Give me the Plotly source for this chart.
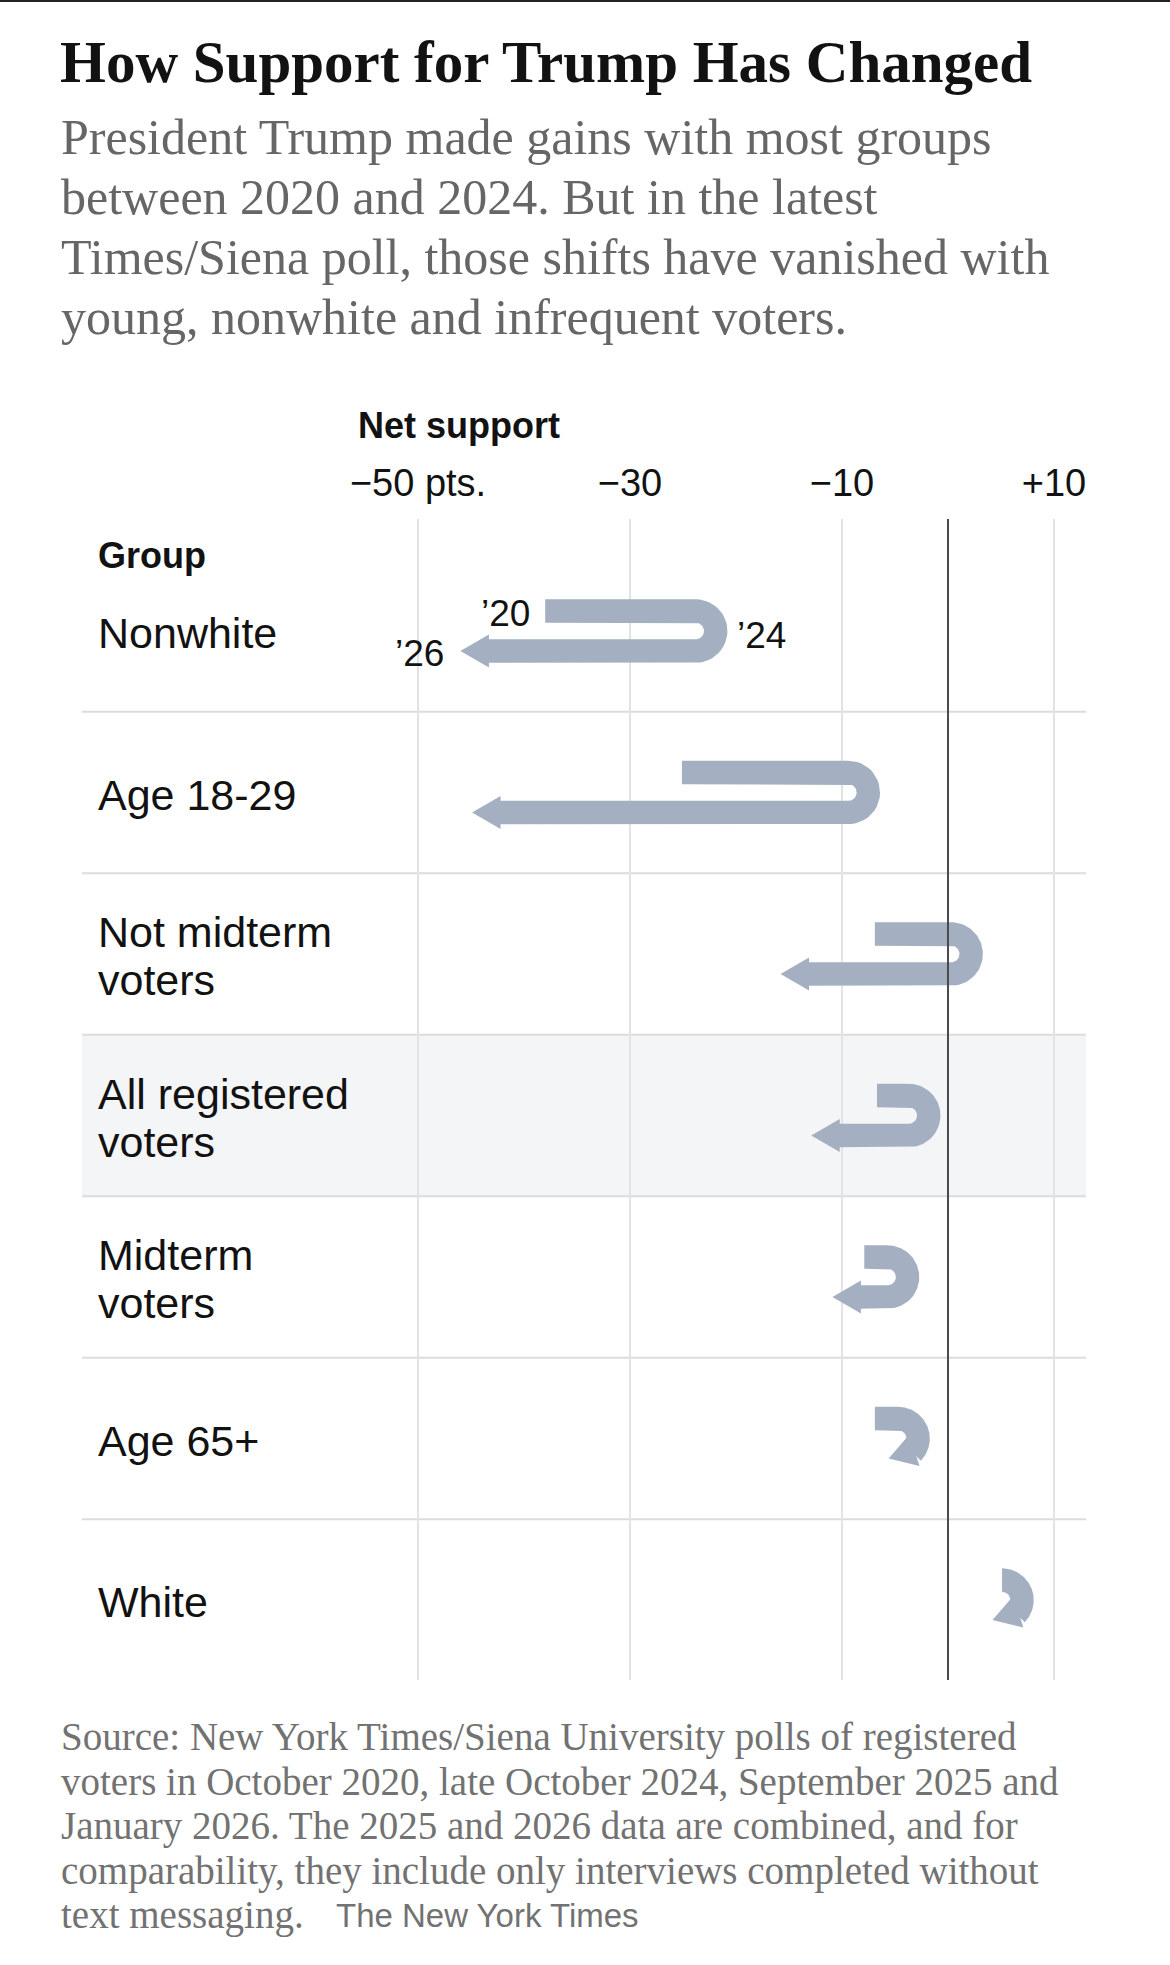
import math
import numpy as np
import plotly.graph_objects as go

# ---------------- data ----------------
groups = ["Nonwhite", "Age 18-29", "Not midterm<br>voters", "All registered<br>voters",
          "Midterm<br>voters", "Age 65+", "White"]
net_2020 = [-38.0, -25.1, -6.9, -6.7, -7.9, -6.9, 5.1]
net_2024 = [-23.8, -9.4, 0.3, -3.7, -5.7, -4.7, 5.1]
net_2026 = [-46.0, -44.9, -15.8, -12.9, -10.9, -5.6, 4.2]
highlight_group = "All registered<br>voters"
tick_vals = [-50, -30, -10, 10]
tick_text = ["\u221250 pts.", "\u221230", "\u221210", "+10"]
year_labels = ["\u201920", "\u201924", "\u201926"]

title = "How Support for Trump Has Changed"
subtitle_lines = [
    "President Trump made gains with most groups",
    "between 2020 and 2024. But in the latest",
    "Times/Siena poll, those shifts have vanished with",
    "young, nonwhite and infrequent voters.",
]
footer_lines = [
    "Source: New York Times/Siena University polls of registered",
    "voters in October 2020, late October 2024, September 2025 and",
    "January 2026. The 2025 and 2026 data are combined, and for",
    "comparability, they include only interviews completed without",
    "text messaging.",
]
credit = "The New York Times"

# ---------------- layout constants ----------------
W, H = 1170, 1965
L, R, T, B = 82, 84, 519, 285
PW, PH = W - L - R, H - T - B
X_RANGE = [-81.7, 13.02]
Y_RANGE = [6.495, -0.6935]
KX = PW / (X_RANGE[1] - X_RANGE[0])      # px per point
KY = PH / (Y_RANGE[0] - Y_RANGE[1])      # px per row

LANE = 20.0
RAD = 20.0
BAND = 23.4
HEAD_L = 28.5
HEAD_HW = 16.5
ARROW_COLOR = "#a4b0c1"
SANS = "Liberation Sans, Arial, sans-serif"
SERIF = "Liberation Serif, Times New Roman, serif"


def px_x(p):
    return (p - L) / PW


def px_y(p):
    return (H - B - p) / PH


def point_at(s, x20, xc, yc):
    s1 = max(xc - x20, 0.0)
    arc = math.pi * RAD
    if s <= s1:
        return (x20 + s, yc - LANE), (1.0, 0.0)
    if s <= s1 + arc:
        phi = (s - s1) / RAD
        return (xc + RAD * math.sin(phi), yc - RAD * math.cos(phi)), (math.cos(phi), math.sin(phi))
    d = s - s1 - arc
    return (xc - d, yc + LANE), (-1.0, 0.0)


def arrow_polys(v20, v24, v26, row):
    x20, xc, xt = v20 * KX, v24 * KX, v26 * KX
    yc = row * KY
    s1 = max(xc - x20, 0.0)
    arc = math.pi * RAD
    s_end = s1 + arc + (xc - xt)
    s_b = s_end - HEAD_L
    s_band = s_b + 3.0
    ss = np.unique(np.concatenate([np.linspace(0, s_band, 200),
                                   [v for v in (s1, s1 + arc) if v < s_band]]))
    left, right = [], []
    for s in ss:
        (px, py), (tx, ty) = point_at(s, x20, xc, yc)
        nx, ny = -ty, tx
        left.append((px + nx * BAND / 2, py + ny * BAND / 2))
        right.append((px - nx * BAND / 2, py - ny * BAND / 2))
    band = left + right[::-1] + [left[0]]
    (tx_, ty_), _ = point_at(s_end, x20, xc, yc)
    (bx, by), _ = point_at(s_b, x20, xc, yc)
    dx, dy = tx_ - bx, ty_ - by
    n = math.hypot(dx, dy)
    dx, dy = dx / n, dy / n
    nx, ny = -dy, dx
    head = [(bx + nx * HEAD_HW, by + ny * HEAD_HW), (tx_, ty_),
            (bx - nx * HEAD_HW, by - ny * HEAD_HW), (bx + nx * HEAD_HW, by + ny * HEAD_HW)]
    conv = lambda pts: ([p[0] / KX for p in pts], [p[1] / KY for p in pts])
    return conv(band), conv(head)


fig = go.Figure()

for i, g in enumerate(groups):
    band, head = arrow_polys(net_2020[i], net_2024[i], net_2026[i], i)
    for xs, ys in (band, head):
        fig.add_trace(go.Scatter(x=xs, y=ys, mode="lines", fill="toself",
                                 fillcolor=ARROW_COLOR, line=dict(width=0, color=ARROW_COLOR),
                                 hoverinfo="skip", showlegend=False))

shapes = []
hi = groups.index(highlight_group)
shapes.append(dict(type="rect", xref="paper", yref="y", x0=0, x1=1, y0=hi - 0.5, y1=hi + 0.5,
                   fillcolor="#f4f5f7", line=dict(width=0), layer="below"))
for i in range(len(groups) - 1):
    shapes.append(dict(type="line", xref="paper", yref="y", x0=0, x1=1, y0=i + 0.5, y1=i + 0.5,
                       line=dict(color="#dcdcdc", width=2), layer="below"))
shapes.append(dict(type="line", xref="x", yref="paper", x0=0, x1=0, y0=0, y1=1,
                   line=dict(color="#4a4a4a", width=2), layer="above"))
shapes.append(dict(type="line", xref="paper", yref="paper", x0=px_x(0), x1=px_x(W),
                   y0=px_y(1), y1=px_y(1), line=dict(color="#222222", width=2)))

ann = []
# title block
ann.append(dict(text="<b>" + title + "</b>", xref="paper", yref="paper", x=px_x(58), y=px_y(62),
                xanchor="left", yanchor="middle", showarrow=False,
                font=dict(family=SERIF, size=59, color="#121212")))
for k, line in enumerate(subtitle_lines):
    ann.append(dict(text=line, xref="paper", yref="paper", x=px_x(59), y=px_y(137 + 60 * k),
                    xanchor="left", yanchor="middle", showarrow=False,
                    font=dict(family=SERIF, size=50, color="#666666")))
# headers
ann.append(dict(text="<b>Net support</b>", xref="paper", yref="paper", x=px_x(356), y=px_y(425),
                xanchor="left", yanchor="middle", showarrow=False,
                font=dict(family=SANS, size=36, color="#121212")))
ann.append(dict(text="<b>Group</b>", xref="paper", yref="paper", x=px_x(96), y=px_y(555),
                xanchor="left", yanchor="middle", showarrow=False,
                font=dict(family=SANS, size=36, color="#121212")))
# group labels
for i, g in enumerate(groups):
    lines = g.split("<br>")
    nl = len(lines)
    for k, line in enumerate(lines):
        off = (k - (nl - 1) / 2) * 48
        ann.append(dict(text=line, xref="paper", yref="y", x=px_x(96), y=i, yshift=-off - 2,
                        xanchor="left", yanchor="middle", showarrow=False,
                        font=dict(family=SANS, size=43, color="#121212")))
# year labels on first row
ann.append(dict(text=year_labels[0], xref="x", yref="y", x=net_2020[0], y=-LANE / KY,
                xshift=-13, yshift=-2, xanchor="right", yanchor="middle", showarrow=False,
                font=dict(family=SANS, size=37, color="#121212")))
ann.append(dict(text=year_labels[1], xref="x", yref="y", x=net_2024[0], y=0,
                xshift=RAD + BAND / 2 + 8, yshift=-4, xanchor="left", yanchor="middle", showarrow=False,
                font=dict(family=SANS, size=37, color="#121212")))
ann.append(dict(text=year_labels[2], xref="x", yref="y", x=net_2026[0], y=LANE / KY,
                xshift=-14, yshift=-2, xanchor="right", yanchor="middle", showarrow=False,
                font=dict(family=SANS, size=37, color="#121212")))
# footer
for k, line in enumerate(footer_lines):
    ann.append(dict(text=line, xref="paper", yref="paper", x=px_x(59), y=px_y(1737 + 44.6 * k),
                    xanchor="left", yanchor="middle", showarrow=False,
                    font=dict(family=SERIF, size=39, color="#727272")))
ann.append(dict(text=credit, xref="paper", yref="paper", x=px_x(334), y=px_y(1737 + 44.6 * 4),
                xanchor="left", yanchor="middle", showarrow=False,
                font=dict(family=SANS, size=33, color="#727272")))

fig.update_layout(
    width=W, height=H, margin=dict(l=L, r=R, t=T, b=B),
    paper_bgcolor="white", plot_bgcolor="rgba(0,0,0,0)",
    shapes=shapes, annotations=ann,
    xaxis=dict(range=X_RANGE, side="top", tickvals=tick_vals, ticktext=tick_text,
               showgrid=True, gridcolor="#e3e3e3", gridwidth=2, zeroline=False,
               showline=False, ticks="", ticklabelstandoff=14,
               tickfont=dict(family=SANS, size=38, color="#121212"), fixedrange=True),
    yaxis=dict(range=Y_RANGE, visible=False, fixedrange=True),
    showlegend=False,
)

fig.write_html("out.html", config={"displayModeBar": False},
               post_script="document.body.style.margin='0';document.body.style.padding='0';")
